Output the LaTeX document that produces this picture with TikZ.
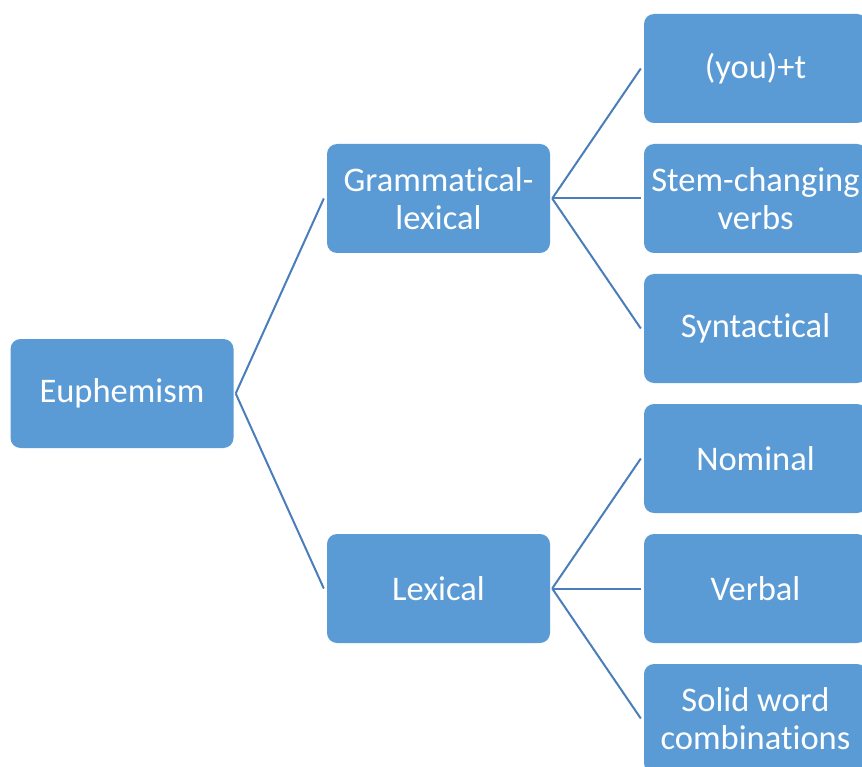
\documentclass[tikz,border=0pt]{standalone}
\usepackage{fontspec}
\setmainfont[Ligatures=NoCommon]{Carlito}
\definecolor{boxblue}{HTML}{5B9BD5}
\definecolor{lineblue}{HTML}{4A7EBB}
\begin{document}
\begin{tikzpicture}[x=1pt,y=-1pt,
  box/.style={draw=none, fill=boxblue, rounded corners=10pt, minimum width=223pt, minimum height=109pt,
    text=white, align=center, inner sep=0pt, font=\fontsize{34.5}{38}\selectfont},
  conn/.style={draw=lineblue, line width=2pt}]
\path[use as bounding box, fill=white] (0,0) rectangle (862,767);
\clip (0,0) rectangle (862,767);
\node[box] (E) at (122,393.5) {Euphemism};
\node[box] (G) at (438.5,198.5) {Grammatical-\\lexical};
\node[box] (L) at (438.5,588.5) {Lexical};
\node[box] (A) at (755.5,68.5) {(you)+t};
\node[box] (B) at (755.5,198.5) {Stem-changing\\verbs};
\node[box] (C) at (755.5,328.5) {Syntactical};
\node[box] (D) at (755.5,458.5) {Nominal};
\node[box] (F) at (755.5,588.5) {Verbal};
\node[box] (H) at (755.5,718.5) {Solid word\\combinations};
\foreach \c in {G,L} \draw[conn] ([xshift=2pt]E.east) -- ([xshift=-3pt]\c.west);
\foreach \c in {A,B,C} \draw[conn] ([xshift=2pt]G.east) -- ([xshift=-3pt]\c.west);
\foreach \c in {D,F,H} \draw[conn] ([xshift=2pt]L.east) -- ([xshift=-3pt]\c.west);
\end{tikzpicture}
\end{document}
